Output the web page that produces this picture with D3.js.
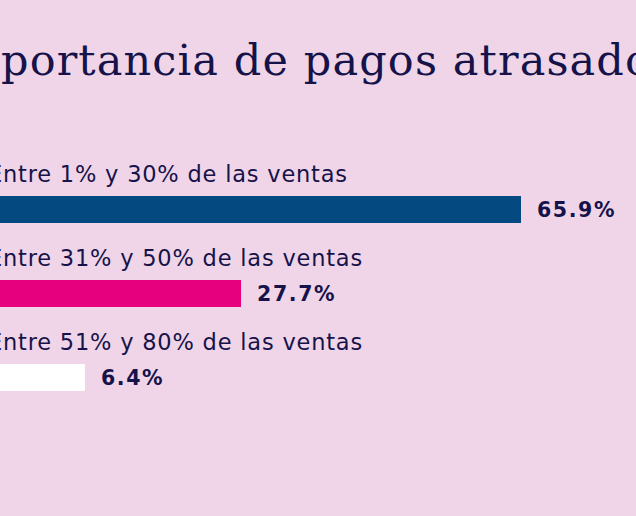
<!DOCTYPE html>
<html><head><meta charset="utf-8">
<script src="https://cdn.jsdelivr.net/npm/d3@7"></script>
<style>html,body{margin:0;padding:0;background:#f0d5e8;overflow:hidden}</style>
</head><body>
<div id="chart"></div>
<script>
const titleText = "Importancia de pagos atrasados";
const categories = ["Entre 1% y 30% de las ventas", "Entre 31% y 50% de las ventas", "Entre 51% y 80% de las ventas"];
const values = [65.9, 27.7, 6.4];
const valueLabels = ["65.9%", "27.7%", "6.4%"];
const barColors = ["#044a80", "#e6007e", "#ffffff"];

const W = 636, H = 516;
const svg = d3.select("#chart").append("svg").attr("width", W).attr("height", H);
svg.append("rect").attr("width", W).attr("height", H).attr("fill", "#f0d5e8");

const ink = "#16134a";

function measure(str, font, size, weight, ls) {
  const p = svg.append("text").attr("font-family", font).attr("font-size", size)
    .attr("font-weight", weight || "normal").attr("letter-spacing", ls || 0).text(str);
  const w = p.node().getComputedTextLength();
  p.remove();
  return w;
}

// title: sized so "portancia de pagos atrasad" spans the frame, "Im" left of it
const tFont = "DejaVu Serif", tSize = 43;
const baseW = measure("portancia de pagos atrasad", tFont, tSize);
const tLS = Math.max(0, (624 - baseW) / 26);
const imW = measure("Im", tFont, tSize, "normal", tLS);
svg.append("text").attr("x", -imW + 1).attr("y", 75)
  .attr("font-family", tFont).attr("font-size", tSize).attr("letter-spacing", tLS)
  .attr("fill", ink).text(titleText);

const lFont = "DejaVu Sans", lSize = 22.5, lLS = 0.8;
const eW = measure("E", lFont, lSize, "normal", lLS);
const left = 3 - eW;

const x = d3.scaleLinear().domain([0, 65.9]).range([38, 521]);
const y = d3.scaleBand().domain(categories).range([154, 406]).paddingInner(0).paddingOuter(0);

const g = svg.selectAll("g.row").data(categories).join("g").attr("class", "row")
  .attr("transform", d => `translate(0,${y(d)})`);

g.append("text").attr("x", left).attr("y", 27.5)
  .attr("font-family", lFont).attr("font-size", lSize).attr("letter-spacing", lLS).attr("fill", ink)
  .text(d => d);

g.append("rect").attr("x", -30).attr("y", 42).attr("height", 27)
  .attr("width", (d, i) => x(values[i]) + 30)
  .attr("fill", (d, i) => barColors[i]);

g.append("text").attr("x", (d, i) => x(values[i]) + 16).attr("y", 63)
  .attr("font-family", "DejaVu Sans").attr("font-weight", "bold").attr("font-size", 20.5)
  .attr("letter-spacing", 1.6).attr("fill", ink)
  .text((d, i) => valueLabels[i]);
</script>
</body></html>
